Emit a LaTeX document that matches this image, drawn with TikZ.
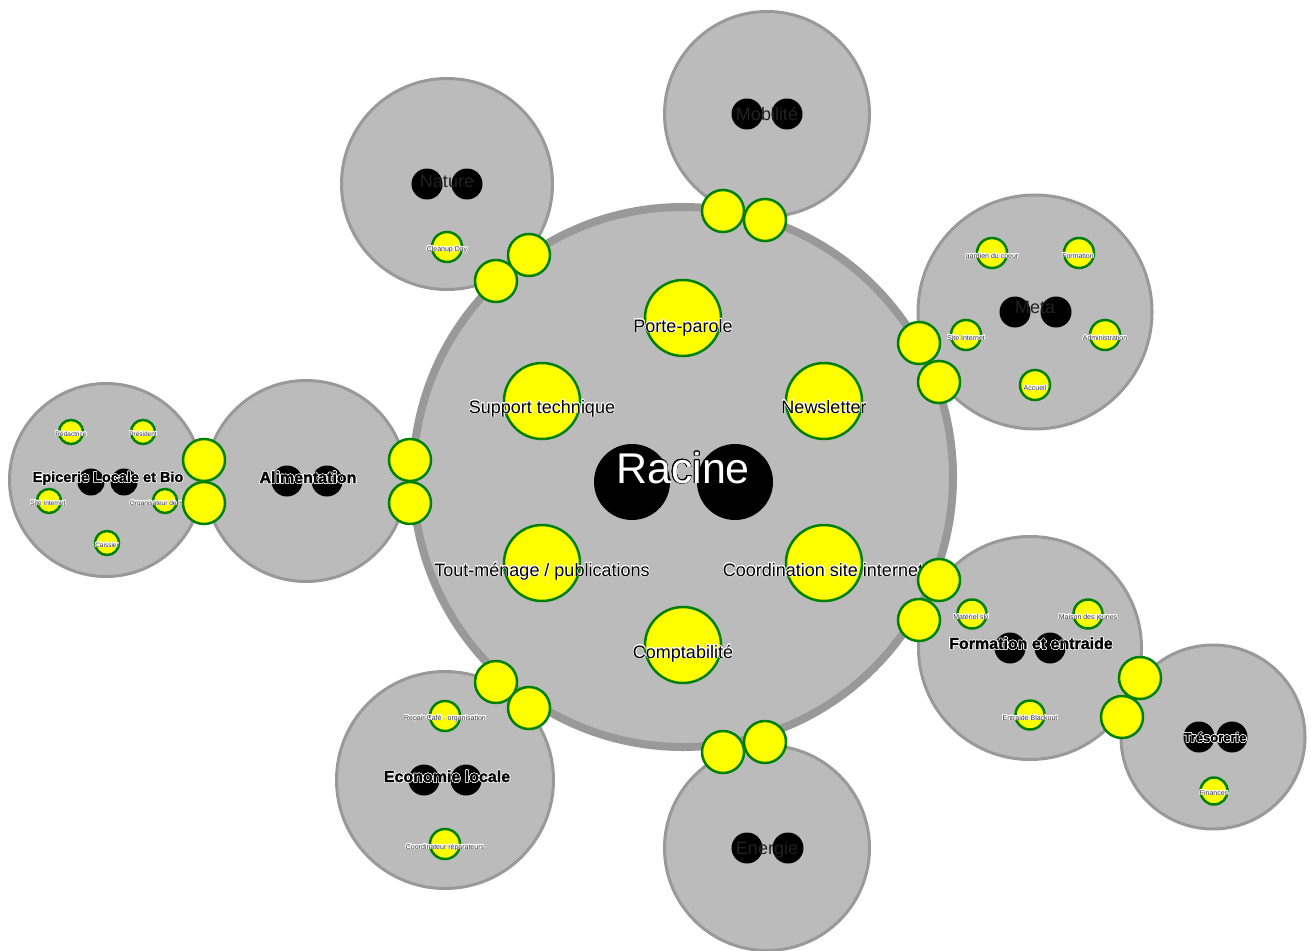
\documentclass[tikz,border=0pt]{standalone}
\usepackage{fontspec}
\setmainfont{Liberation Sans}
\newfontfamily\hvy[FakeBold=1.6]{Liberation Sans Bold}
\usepackage[copies]{contour}
\contourlength{0.6pt}
\definecolor{hfill}{HTML}{BBBBBB}
\definecolor{hline}{HTML}{999999}
\definecolor{rgreen}{HTML}{008000}
\definecolor{ryellow}{HTML}{FFFF00}
\definecolor{subtxt}{HTML}{222222}
\definecolor{smalltxt}{HTML}{333333}
\tikzset{
  holon/.style={circle, fill=hfill, draw=hline, line width=3pt, inner sep=0pt, minimum size=#1},
  rootholon/.style={circle, fill=hfill, draw=hline, line width=8pt, inner sep=0pt, minimum size=#1},
  rolec/.style={circle, fill=ryellow, draw=rgreen, line width=2.5pt, inner sep=0pt, minimum size=#1},
  linkc/.style={circle, fill=ryellow, draw=rgreen, line width=2.5pt, inner sep=0pt, minimum size=42pt},
  blackdot/.style={circle, fill=black, inner sep=0pt, minimum size=#1},
  roletext/.style={anchor=base, inner sep=0pt, text=black, font=\fontsize{18}{20}\selectfont},
  smalltext/.style={anchor=base, inner sep=0pt, text=smalltxt, font=\fontsize{7}{8}\selectfont},
  subtext/.style={anchor=base, inner sep=0pt, text=subtxt, font=\fontsize{18}{20}\selectfont},
  boldtext/.style={anchor=base, inner sep=0pt, text=black, font=\hvy\fontsize{#1}{#1}\selectfont},
  roottext/.style={anchor=base, inner sep=0pt, text=white, font=\fontsize{43}{46}\selectfont},
}
\newcommand{\wh}[1]{\contour{white}{#1}}
\begin{document}
\begin{tikzpicture}[x=1pt,y=-1pt]
\useasboundingbox (0,0) rectangle (1311,950);
% sub holons
\node[holon=205pt] (mob) at (767,114) {};
\node[holon=211pt] (nat) at (447,184) {};
\node[holon=234pt] (meta) at (1035,312) {};
\node[holon=201pt] (alim) at (306,481) {};
\node[holon=193pt] (epi) at (106,480) {};
\node[holon=223pt] (form) at (1030,648) {};
\node[holon=184pt] (tres) at (1213,737) {};
\node[holon=217pt] (eco) at (445,780) {};
\node[holon=205pt] (ener) at (767,848) {};
% root holon
\node[rootholon=540pt] (racine) at (683,477) {};

% anchor dots
\node[blackdot=76pt] (racA) at (632,482) {};
\node[blackdot=76pt] (racB) at (735,482) {};
\node[blackdot=31pt] (mobA) at (747,114) {};
\node[blackdot=31pt] (mobB) at (787,114) {};
\node[blackdot=31pt] (natA) at (427,184) {};
\node[blackdot=31pt] (natB) at (467,184) {};
\node[blackdot=31pt] (metaA) at (1015,312) {};
\node[blackdot=31pt] (metaB) at (1056,312) {};
\node[blackdot=31pt] (alimA) at (287,481) {};
\node[blackdot=31pt] (alimB) at (327,481) {};
\node[blackdot=27pt] (epiA) at (91,482) {};
\node[blackdot=27pt] (epiB) at (124,482) {};
\node[blackdot=31pt] (formA) at (1010,648) {};
\node[blackdot=31pt] (formB) at (1050,648) {};
\node[blackdot=31pt] (tresA) at (1199,737) {};
\node[blackdot=31pt] (tresB) at (1232,737) {};
\node[blackdot=31pt] (ecoA) at (424,780) {};
\node[blackdot=31pt] (ecoB) at (466,780) {};
\node[blackdot=31pt] (enerA) at (747,848) {};
\node[blackdot=31pt] (enerB) at (788,848) {};

% holon labels
\node[roottext] (racL) at (683,483) {\contour{black}{Racine}};
\node[subtext] (mobL) at (767,120) {Mobilité};
\node[subtext] (natL) at (447,187) {Nature};
\node[subtext] (metaL) at (1035,313) {Meta};
\node[subtext] (enerL) at (767,854) {Energie};
\node[boldtext=16] (alimL) at (308,483) {\wh{Alimentation}};
\node[boldtext=14.5] (epiL) at (108,482) {\wh{Epicerie Locale et Bio}};
\node[boldtext=16] (formL) at (1031,649) {\wh{Formation et entraide}};
\node[boldtext=16] (ecoL) at (447,782) {\wh{Economie locale}};
\node[boldtext=13] (tresL) at (1215,742) {\wh{Trésorerie}};

% roles in root
\node[rolec=76pt] (pp) at (683,318) {};
\node[rolec=76pt] (st) at (542,401) {};
\node[rolec=76pt] (nl) at (824,401) {};
\node[rolec=76pt] (tm) at (542,563) {};
\node[rolec=76pt] (cs) at (824,563) {};
\node[rolec=76pt] (cp) at (683,645) {};
\node[roletext] (ppL) at (683,332) {\wh{Porte-parole}};
\node[roletext] (stL) at (542,413) {\wh{Support technique}};
\node[roletext] (nlL) at (824,413) {\wh{Newsletter}};
\node[roletext] (tmL) at (542,576) {\wh{Tout-ménage / publications}};
\node[roletext] (csL) at (823,576) {\wh{Coordination site internet}};
\node[roletext] (cpL) at (683,658) {\wh{Comptabilité}};

% small roles
\node[rolec=30pt] (cu) at (447,247) {};
\node[smalltext] (cuL) at (447,251) {\wh{Cleanup Day}};

\node[rolec=30pt] (gc) at (992,253) {};
\node[rolec=30pt] (fo) at (1079,253) {};
\node[rolec=30pt] (si1) at (966,335) {};
\node[rolec=30pt] (ad) at (1105,335) {};
\node[rolec=30pt] (ac) at (1035,385) {};
\node[smalltext] (gcL) at (992,258) {\wh{gardien du coeur}};
\node[smalltext] (foL) at (1078,258) {\wh{Formation}};
\node[smalltext] (si1L) at (966,340) {\wh{Site Internet}};
\node[smalltext] (adL) at (1105,340) {\wh{Administration}};
\node[smalltext] (acL) at (1035,390) {\wh{Accueil}};

\node[rolec=24pt] (re) at (71,432) {};
\node[rolec=24pt] (pr) at (143,432) {};
\node[rolec=24pt] (si2) at (49,501) {};
\node[rolec=24pt] (om) at (165,501) {};
\node[rolec=24pt] (ca) at (107,543) {};
\node[smalltext, font=\fontsize{6.5}{7}\selectfont] (reL) at (71,436) {\wh{Rédactrice}};
\node[smalltext, font=\fontsize{6.5}{7}\selectfont] (prL) at (143,436) {\wh{Président}};
\node[smalltext, font=\fontsize{6.5}{7}\selectfont] (si2L) at (48,505) {\wh{Site Internet}};
\node[smalltext, font=\fontsize{6.5}{7}\selectfont] (omL) at (165,505) {\wh{Organisateur de marché}};
\node[smalltext, font=\fontsize{6.5}{7}\selectfont] (caL) at (107,547) {\wh{Caissier}};

\node[rolec=29pt] (ms) at (972,614) {};
\node[rolec=29pt] (mj) at (1088,614) {};
\node[rolec=29pt] (eb) at (1030,715) {};
\node[smalltext] (msL) at (971,619) {\wh{Matériel ski}};
\node[smalltext] (mjL) at (1088,619) {\wh{Maison des jeunes}};
\node[smalltext] (ebL) at (1030,720) {\wh{Entraide Blackout}};

\node[rolec=27pt] (fi) at (1214,791) {};
\node[smalltext] (fiL) at (1214,795) {\wh{Finances}};

\node[rolec=30pt] (rc) at (445,716) {};
\node[rolec=30pt] (cr) at (445,844) {};
\node[smalltext] (rcL) at (445,720) {\wh{Repair Café - organisation}};
\node[smalltext] (crL) at (445,849) {\wh{Coordinateur réparateurs}};

% link circles
\node[linkc] (lk1a) at (723,211) {};
\node[linkc] (lk1b) at (765,220) {};
\node[linkc] (lk2a) at (529,255) {};
\node[linkc] (lk2b) at (496,281) {};
\node[linkc] (lk3a) at (919,343) {};
\node[linkc] (lk3b) at (939,382) {};
\node[linkc] (lk4a) at (410,460) {};
\node[linkc] (lk4b) at (410,503) {};
\node[linkc] (lk5a) at (204,460) {};
\node[linkc] (lk5b) at (204,503) {};
\node[linkc] (lk6a) at (939,580) {};
\node[linkc] (lk6b) at (919,620) {};
\node[linkc] (lk7a) at (1140,678) {};
\node[linkc] (lk7b) at (1122,717) {};
\node[linkc] (lk8a) at (496,682) {};
\node[linkc] (lk8b) at (529,708) {};
\node[linkc] (lk9a) at (723,752) {};
\node[linkc] (lk9b) at (765,742) {};
\end{tikzpicture}
\end{document}
